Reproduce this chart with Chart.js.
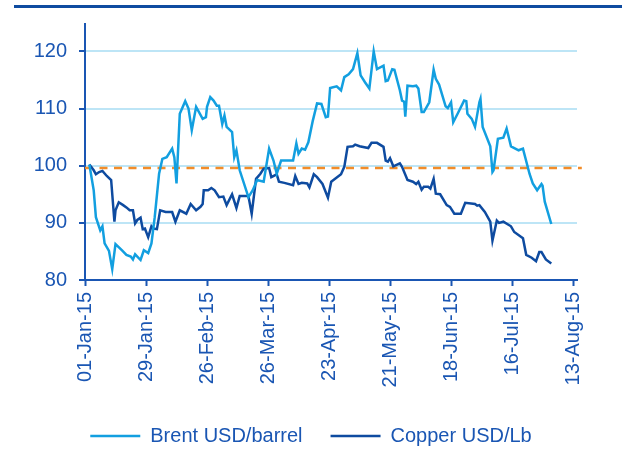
<!DOCTYPE html>
<html>
<head>
<meta charset="utf-8">
<script src="https://cdn.jsdelivr.net/npm/chart.js@4.4.1/dist/chart.umd.min.js"></script>
<style>
  html, body { margin: 0; padding: 0; background: #fff; }
  #wrap { width: 622px; height: 452px; position: relative; }
</style>
</head>
<body>
<div id="wrap"><canvas id="chart"></canvas></div>
<script>
// days counted from 01-Jan-15
const tickDays = [0, 28, 56, 84, 112, 140, 168, 196, 224];
const tickLabels = ['01-Jan-15', '29-Jan-15', '26-Feb-15', '26-Mar-15', '23-Apr-15', '21-May-15', '18-Jun-15', '16-Jul-15', '13-Aug-15'];

const brentDays = [2, 4, 5, 7, 8, 9, 11, 12.5, 14, 17, 19, 21, 22, 23, 25.5, 27, 29, 30.5, 32, 34, 35.5, 37.5, 40, 41, 42, 43.5, 46, 47.5, 49, 51, 54, 55.5, 56, 57.5, 59, 60.5, 61.5, 63, 64, 65, 67.5, 68.5, 69.5, 71, 75, 77, 79, 82, 84.5, 86.5, 88, 90, 95.5, 97, 98, 99.5, 101, 102.5, 104.5, 106.5, 108.5, 110.5, 111.5, 112.5, 115.5, 117.5, 119, 121, 123, 125, 126.5, 128.5, 130.5, 132.5, 134, 137, 138, 139, 141, 142, 144.5, 145.5, 146.5, 147, 148, 150.5, 152, 153, 154.5, 155.5, 158, 160, 161, 162.5, 165.5, 166.5, 168, 169, 171, 174, 175, 175.5, 177.5, 179, 181, 181.5, 182.5, 186, 187, 187.5, 189.5, 192, 193.5, 195.5, 199, 201, 204, 205.5, 207.5, 209.5, 210, 211, 214];
const brentValues = [100.2, 95.7, 91.0, 88.7, 89.4, 86.4, 85.1, 81.9, 86.3, 85.2, 84.4, 84.1, 83.6, 84.5, 83.5, 85.2, 84.7, 86.4, 91.0, 98.6, 101.2, 101.5, 103.0, 101.5, 96.9, 109.1, 111.3, 110.0, 106.2, 110.3, 108.2, 108.5, 110.3, 112.0, 111.4, 110.5, 110.5, 107.3, 108.8, 106.8, 105.9, 101.5, 102.7, 99.2, 94.5, 95.7, 97.5, 97.2, 103.0, 100.9, 98.6, 100.9, 100.9, 103.9, 102.1, 103.0, 102.8, 104.1, 107.8, 110.9, 110.8, 108.5, 108.6, 113.6, 113.9, 113.2, 115.5, 116.0, 116.9, 119.7, 115.8, 114.6, 113.5, 120.0, 116.9, 117.5, 114.8, 114.9, 116.9, 116.8, 113.2, 111.4, 111.2, 108.6, 114.0, 113.9, 114.0, 113.5, 109.4, 109.4, 111.1, 116.8, 115.2, 114.2, 110.4, 110.1, 111.1, 107.6, 109.1, 111.4, 111.3, 109.1, 108.2, 106.8, 111.1, 111.7, 106.8, 103.4, 98.9, 99.2, 104.7, 104.9, 106.5, 103.4, 102.7, 103.0, 98.6, 96.9, 95.7, 96.8, 96.5, 93.7, 89.8];

const copperDays = [2, 4, 5, 6.5, 8, 10, 12, 13.5, 14, 15.5, 17.5, 19, 20.5, 22, 23, 24, 25.5, 26.5, 27.5, 29, 30.5, 31.5, 33, 34.5, 37, 40, 41.5, 43.5, 46.5, 48.5, 51, 53, 54, 54.5, 56.5, 58, 59.5, 61.5, 63.5, 65, 67.5, 69.5, 71, 75, 76.5, 78.5, 80.5, 82, 84.5, 85.5, 88, 89, 91.5, 95.5, 96.5, 98, 99.5, 102, 103, 105, 106.5, 109, 111.5, 113, 117.5, 119, 120.5, 123, 124, 126, 130, 131.5, 134, 137, 138, 139, 140, 141.5, 144.5, 145.5, 148, 150.5, 152, 153, 154.5, 155.5, 157.5, 158.5, 160, 161, 163, 166, 167.5, 169.5, 172.5, 174.5, 179, 180, 181, 183.5, 186, 187, 189, 190, 192, 195.5, 197, 201, 202.5, 205, 207, 208.5, 209.5, 211.5, 214];
const copperValues = [100.2, 99.2, 98.5, 98.9, 99.1, 98.2, 97.5, 90.2, 92.2, 93.6, 93.1, 92.7, 92.2, 92.2, 89.9, 90.5, 90.9, 88.9, 89.0, 87.5, 89.4, 89.0, 88.9, 92.2, 91.9, 91.9, 90.2, 92.2, 91.6, 93.3, 92.2, 92.8, 93.3, 95.7, 95.7, 96.1, 95.7, 94.5, 94.6, 93.1, 95.0, 92.6, 94.7, 94.7, 91.6, 97.7, 98.6, 99.5, 99.6, 98.0, 98.5, 97.2, 97.0, 96.6, 98.2, 96.8, 97.0, 96.9, 96.2, 98.5, 98.0, 96.8, 94.4, 97.2, 98.5, 99.8, 103.3, 103.4, 103.7, 103.4, 103.1, 104.0, 104.0, 103.3, 100.9, 100.7, 101.3, 99.9, 100.4, 99.8, 97.5, 97.2, 96.8, 97.2, 95.8, 96.3, 96.3, 96.0, 97.7, 95.1, 95.0, 93.1, 92.8, 91.6, 91.6, 93.5, 93.3, 93.0, 93.1, 91.9, 90.2, 86.9, 90.4, 90.0, 90.2, 89.4, 88.4, 87.3, 84.4, 83.9, 83.3, 84.9, 84.9, 83.6, 82.9];

const refDays = [0, 228];
const refValues = [99.6, 99.6];

const axisColor = '#1a56b3';
const font = { family: '"Liberation Sans", Arial, sans-serif', size: 20 };

function toPoints(xs, ys) {
    return xs.map((x, i) => ({ x: x, y: ys[i] }));
}

// dark rule across the top of the page
const headerRule = {
    id: 'headerRule',
    beforeDraw(chart) {
        const ctx = chart.ctx;
        ctx.save();
        ctx.strokeStyle = '#0e4ba0';
        ctx.lineWidth = 3;
        ctx.beginPath();
        ctx.moveTo(14, 6.5);
        ctx.lineTo(622, 6.5);
        ctx.stroke();
        ctx.restore();
    }
};

new Chart(document.getElementById('chart'), {
    type: 'line',
    data: {
        datasets: [
            {
                label: 'Brent USD/barrel',
                data: toPoints(brentDays, brentValues),
                borderColor: '#129fe0',
                backgroundColor: '#129fe0',
                borderWidth: 2.5,
                pointRadius: 0,
                tension: 0
            },
            {
                label: 'Copper USD/Lb',
                data: toPoints(copperDays, copperValues),
                borderColor: '#0e4ba0',
                backgroundColor: '#0e4ba0',
                borderWidth: 2.5,
                pointRadius: 0,
                tension: 0
            },
            {
                label: 'ref',
                data: toPoints(refDays, refValues),
                borderColor: '#f28c28',
                borderWidth: 2.5,
                borderDash: [8, 6.5],
                pointRadius: 0,
                clip: false
            }
        ]
    },
    options: {
        responsive: true,
        maintainAspectRatio: false,
        animation: false,
        layout: { padding: { top: 23, right: 0, left: 0, bottom: -4 } },
        plugins: {
            legend: {
                position: 'bottom',
                labels: {
                    usePointStyle: true,
                    pointStyle: 'line',
                    pointStyleWidth: 50,
                    padding: 28,
                    color: axisColor,
                    font: font,
                    filter: item => item.datasetIndex < 2
                }
            },
            tooltip: { enabled: false }
        },
        scales: {
            x: {
                type: 'linear',
                min: 0,
                max: 225.8,
                afterBuildTicks: scale => {
                    scale.ticks = tickDays.map(d => ({ value: d }));
                },
                afterFit: scale => { scale.height = 118; },
                ticks: {
                    minRotation: 90,
                    maxRotation: 90,
                    padding: 6,
                    color: axisColor,
                    font: font,
                    callback: value => tickLabels[tickDays.indexOf(value)]
                },
                grid: {
                    drawOnChartArea: false,
                    drawTicks: true,
                    tickLength: 6,
                    tickColor: axisColor,
                    tickWidth: 2
                },
                border: { color: axisColor, width: 2 }
            },
            y: {
                min: 80,
                max: 124.8,
                afterBuildTicks: scale => {
                    scale.ticks = scale.ticks.filter(t => t.value % 10 === 0);
                },
                afterFit: scale => { scale.width = 85; },
                ticks: {
                    stepSize: 10,
                    padding: 12,
                    color: axisColor,
                    font: font
                },
                grid: {
                    color: '#bde5f6',
                    lineWidth: 2,
                    tickLength: 6,
                    tickColor: axisColor,
                    tickWidth: 2
                },
                border: { color: axisColor, width: 2 }
            },
            // empty right-hand strip so the legend centres on the whole page
            spacer: {
                position: 'right',
                min: 0,
                max: 1,
                afterFit: scale => { scale.width = 45; },
                ticks: { display: false },
                grid: { display: false },
                border: { display: false }
            }
        }
    },
    plugins: [headerRule]
});
</script>
</body>
</html>
